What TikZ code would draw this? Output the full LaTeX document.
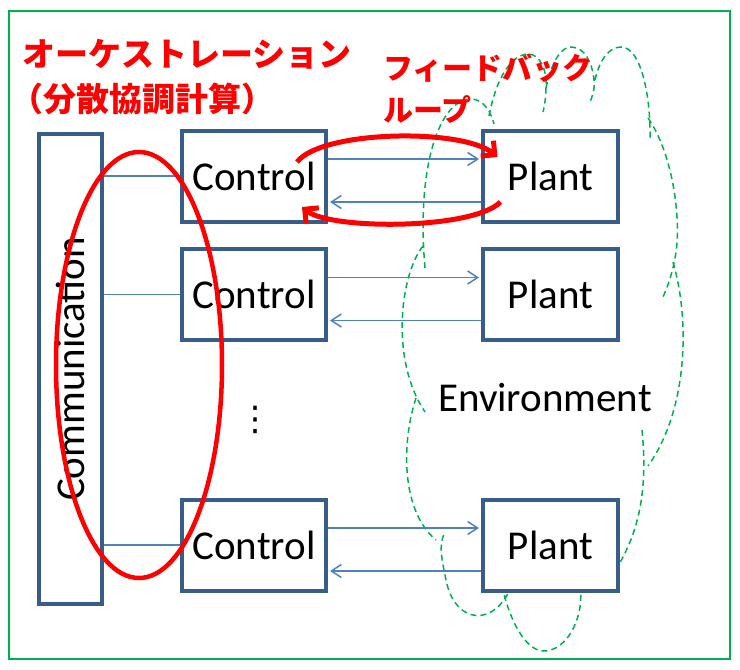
\documentclass[tikz,border=0pt]{standalone}
\usepackage{fontspec}
\setmainfont{Carlito}
\newfontfamily\jpfont{Noto Sans CJK JP}
\newfontfamily\symfont{DejaVu Sans}
\usetikzlibrary{arrows.meta, calc}

\definecolor{boxblue}{HTML}{385D8A}
\definecolor{linkblue}{HTML}{4F81BD}
\definecolor{envgreen}{HTML}{00B050}

\tikzset{
  block/.style={draw=boxblue, line width=4pt, fill=white, inner sep=0pt,
    font=\fontsize{41}{49}\selectfont},
  ctlbox/.style={block, minimum width=144pt, minimum height=91pt},
  pltbox/.style={block, minimum width=135pt, minimum height=91pt},
  wire/.style={linkblue, line width=1.5pt},
  sig/.style={wire, -{Straight Barb[length=10pt,width=13pt]}, shorten >=2pt},
  fbarc/.style={red, line width=5pt, -{Straight Barb[length=10pt,width=20pt]}},
  envline/.style={envgreen, line width=1.5pt, dash pattern=on 6pt off 4pt},
  jplabel/.style={red, inner sep=0pt, anchor=west, font=\jpfont\bfseries\fontsize{33}{42}\selectfont}
}

\begin{document}
\begin{tikzpicture}[x=1pt, y=-1pt]
  \useasboundingbox (0,0) rectangle (740,670);
  \draw[envgreen, line width=2pt] (9,11) rectangle (730,659);

  % environment cloud
  \draw[envline]
    (425,268) .. controls (416,165) and (440,98) .. (472,99) .. controls (484,100) and (491,112) .. (494,124)
    (489,116) .. controls (497,75) and (512,55) .. (528,54) .. controls (540,54) and (547,70) .. (546,86) .. controls (546,95) and (545,104) .. (543,112)
    (546,88) .. controls (552,60) and (562,46) .. (572,47) .. controls (585,48) and (592,62) .. (594,80) .. controls (595,90) and (592,97) .. (590,102)
    (595,80) .. controls (600,58) and (610,47) .. (621,47) .. controls (642,47) and (651,100) .. (650,140)
    (648,118) .. controls (674,155) and (682,225) .. (675,258) .. controls (672,275) and (667,288) .. (663,297)
    (673,262) .. controls (690,320) and (688,410) .. (648,466)
    (642,430) .. controls (648,490) and (640,540) .. (605,585)
    (580,585) .. controls (585,620) and (565,652) .. (543,651) .. controls (525,650) and (510,620) .. (503,590)
    (512,585) .. controls (495,628) and (455,625) .. (446,580) .. controls (442,560) and (438,545) .. (445,532)
    (416,398) .. controls (402,440) and (400,510) .. (436,540)
    (423,246) .. controls (400,275) and (390,360) .. (425,412);

  \node[block, rotate=90, minimum width=470pt, minimum height=63pt] (comm) at (70.5,369) {Communication};

  \node[ctlbox] (ctl1) at (254,176) {Control};
  \node[ctlbox] (ctl2) at (254,294.5) {Control};
  \node[ctlbox] (ctl3) at (254,545) {Control};
  \node[pltbox] (plt1) at (550.5,176) {Plant};
  \node[pltbox] (plt2) at (550.5,294.5) {Plant};
  \node[pltbox] (plt3) at (550.5,545) {Plant};

  \node[font=\symfont\fontsize{34}{34}\selectfont] (dots) at (255,420) {⋮};
  \node[font=\fontsize{41}{49}\selectfont] (env) at (545,398) {Environment};

  \foreach \i in {1,2,3} {
    \draw[wire] (comm.south |- ctl\i.west) -- (ctl\i.west);
    \draw[sig] ([yshift=17pt]ctl\i.east) -- ([yshift=17pt]plt\i.west);
    \draw[sig] ([yshift=-26pt]plt\i.west) -- ([yshift=-26pt]ctl\i.east);
  }

  % orchestration and feedback loop
  \draw[red, line width=4.5pt] (139,365) ellipse [x radius=83, y radius=213];
  \draw[fbarc] ($(ctl1)+(43,-14)$) .. controls +(25,-32) and +(-35,-29) .. ($(plt1)+(-53,-19)$);
  \draw[fbarc] ($(plt1)+(-50,26)$) .. controls +(-28,28) and +(28,23) .. ($(ctl1)+(48,31)$);

  \node[jplabel] (orch1) at (22,54) {オーケストレーション};
  \node[jplabel] (orch2) at (10,99) {（分散協調計算）};
  \node[jplabel, align=left, font=\jpfont\bfseries\fontsize{30}{42}\selectfont] (fb) at (383,89) {フィードバック\\ループ};
\end{tikzpicture}
\end{document}
